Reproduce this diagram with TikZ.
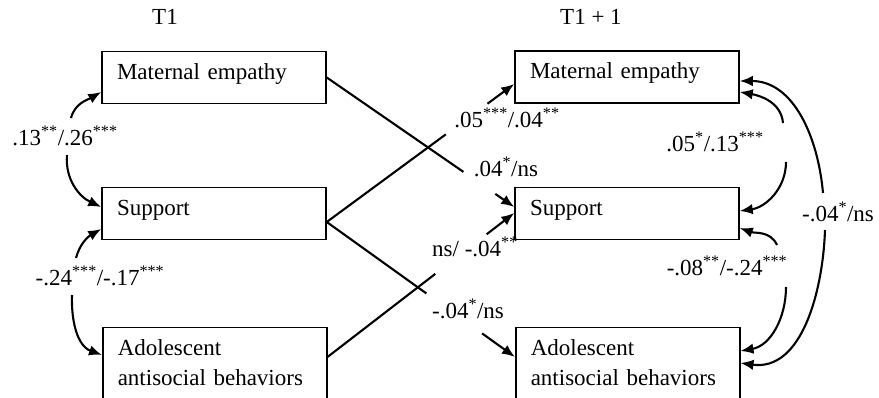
\documentclass[tikz,border=0pt]{standalone}
\usepackage{fontspec}
\setmainfont{Liberation Serif}
\usetikzlibrary{arrows.meta,calc}
\newcommand\mysup[1]{\textsuperscript{#1}}
\begin{document}
\begin{tikzpicture}[x=1pt,y=1pt,
  fs/.style={font=\fontsize{23}{30}\selectfont},
  box/.style={fs,draw,line width=1.5pt,text width=194pt,align=left,inner xsep=15pt,inner ysep=0pt,minimum height=52pt,text height=16pt,text depth=12pt},
  conn/.style={line width=2.1pt},
  arr/.style={conn,-{Latex[length=13pt,width=10.5pt]}},
  lab/.style={fs,anchor=base,inner sep=0pt}]
\useasboundingbox (0,0) rectangle (879,398);
\clip (0,0) rectangle (879,398);
% boxes
\node[box] (LM) at (214,320.5) {Maternal empathy};
\node[box] (LS) at (214,184.5) {Support};
\node[box,anchor=north west,text height=28pt,text depth=60pt] (LA) at (102,71) {Adolescent\\antisocial behaviors};
\node[box] (RM) at (627,321) {Maternal empathy};
\node[box] (RS) at (627,184.5) {Support};
\node[box,anchor=north west,text height=28pt,text depth=60pt] (RA) at (515,71) {Adolescent\\antisocial behaviors};
% titles
\node[fs,anchor=base west,inner sep=0pt] (T1) at (152,373) {T1};
\node[fs,anchor=base west,inner sep=0pt] (T2) at (560,373) {T1 + 1};
% cross-lagged paths
\coordinate (a1) at (LM.east);
\coordinate (b1) at ([yshift=6.5pt]RS.west);
\draw[conn] (a1) -- ($(a1)!0.729!(b1)$);
\draw[arr] ($(a1)!0.899!(b1)$) -- (b1);
\coordinate (a2) at ([yshift=-8.5pt]LS.east);
\coordinate (b2) at ([yshift=-7pt]RM.west);
\draw[conn] (a2) -- ($(a2)!0.635!(b2)$);
\draw[arr] ($(a2)!0.857!(b2)$) -- (b2);
\coordinate (b3) at ([yshift=-30pt]RA.north west);
\draw[conn] (a2) -- ($(a2)!0.529!(b3)$);
\draw[arr] ($(a2)!0.825!(b3)$) -- (b3);
\coordinate (a4) at ([yshift=-30pt]LA.north east);
\coordinate (b4) at ([yshift=0.5pt]RS.west);
\draw[conn] (a4) -- ($(a4)!0.577!(b4)$);
\draw[arr] ($(a4)!0.852!(b4)$) -- (b4);
\node[lab] (l1) at (506,221) {.04\mysup{*}/ns};
\node[lab] (l2) at (507,270) {.05\mysup{***}/.04\mysup{**}};
\node[lab] (l3) at (475,141) {ns/ -.04\mysup{**}};
\node[lab] (l4) at (468,79) {-.04\mysup{*}/ns};
% left correlations
\coordinate (c1a) at (71,280);
\coordinate (c1b) at (67,243);
\draw[arr] (c1a) to[out=75,in=210] ([yshift=-14.5pt]LM.west);
\draw[arr] (c1b) to[out=-95,in=155] ([yshift=6.5pt]LS.west);
\coordinate (c2a) at (76,140);
\coordinate (c2b) at (72,103);
\draw[arr] (c2a) to[out=75,in=210] ([yshift=-15.5pt]LS.west);
\draw[arr] (c2b) to[out=-92,in=160] ([yshift=-28pt]LA.north west);
\node[lab] (l5) at (65,252) {.13\mysup{**}/.26\mysup{***}};
\node[lab] (l6) at (100,112) {-.24\mysup{***}/-.17\mysup{***}};
% right correlations
\coordinate (c3a) at (783,275);
\coordinate (c3b) at (786,236);
\draw[arr] (c3a) to[out=95,in=-10] ([yshift=-15pt]RM.east);
\draw[arr] (c3b) to[out=-90,in=8] ([yshift=2.5pt]RS.east);
\coordinate (c4a) at (777,153);
\coordinate (c4b) at (786,111);
\draw[arr] (c4a) to[out=115,in=-20] ([yshift=-14.5pt]RS.east);
\draw[arr] (c4b) to[out=-90,in=10] ([yshift=-24pt]RA.north east);
\coordinate (c5a) at (823,205);
\coordinate (c5b) at (825,168);
\draw[arr] (c5a) to[out=95,in=0] ([yshift=-4pt]RM.east);
\draw[arr] (c5b) to[out=-92,in=-8] ([yshift=-36pt]RA.north east);
\node[lab] (l7) at (715,246) {.05\mysup{*}/.13\mysup{***}};
\node[lab] (l8) at (727,122) {-.08\mysup{**}/-.24\mysup{***}};
\node[lab] (l9) at (838,176) {-.04\mysup{*}/ns};
\end{tikzpicture}
\end{document}
